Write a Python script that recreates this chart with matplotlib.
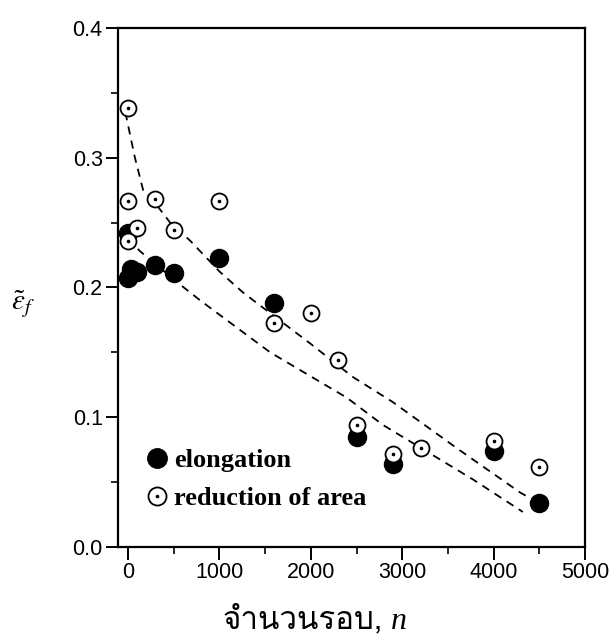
import matplotlib
matplotlib.use("Agg")
import matplotlib.pyplot as plt
from matplotlib import font_manager
from matplotlib.ft2font import FT2Font
from matplotlib.lines import Line2D
from matplotlib.legend_handler import HandlerTuple

# ---------------- data ----------------
ra_n = [0, 0, 300, 1000, 100, 0, 500, 1600, 2000, 2300, 2500, 2900, 3200, 4000, 4500]
ra_eps = [0.338, 0.267, 0.268, 0.267, 0.246, 0.236, 0.244, 0.173, 0.180, 0.144,
          0.094, 0.072, 0.076, 0.082, 0.062]

el_n = [0, 30, 100, 0, 300, 500, 1000, 1600, 2500, 2900, 4000, 4500]
el_eps = [0.207, 0.214, 0.212, 0.242, 0.217, 0.211, 0.223, 0.188, 0.085, 0.064, 0.074, 0.034]

upper_fit_n = [-30, 75, 165, 275, 460, 680, 1005, 1260, 1990, 2460, 2890, 3600, 4290, 4365]
upper_fit_eps = [0.335, 0.300, 0.275, 0.267, 0.250, 0.236, 0.212, 0.196, 0.157, 0.131,
                 0.112, 0.076, 0.042, 0.039]

lower_fit_n = [0, 130, 610, 790, 1555, 2395, 2790, 3775, 4320]
lower_fit_eps = [0.238, 0.228, 0.200, 0.190, 0.150, 0.115, 0.094, 0.052, 0.027]

x_ticks = [0, 1000, 2000, 3000, 4000, 5000]
y_ticks = [0.0, 0.1, 0.2, 0.3, 0.4]
y_tick_labels = ["0.0", "0.1", "0.2", "0.3", "0.4"]
legend_labels = ["elongation", "reduction of area"]
x_label = "จำนวนรอบ,"
x_label_var = "n"

# ---------------- fonts ----------------
def find_thai_font():
    seen = set()
    for f in font_manager.fontManager.ttflist:
        if f.fname in seen:
            continue
        seen.add(f.fname)
        try:
            cmap = FT2Font(f.fname).get_charmap()
        except Exception:
            continue
        if 0x0E08 in cmap and 0x0E33 in cmap:
            return f.name
    return None

thai = find_thai_font()
thai_family = [thai, "Liberation Serif", "DejaVu Sans"] if thai else ["Liberation Serif", "DejaVu Sans"]

plt.rcParams["font.family"] = ["Liberation Sans", "DejaVu Sans"]
plt.rcParams["mathtext.fontset"] = "stix"

# ---------------- figure ----------------
fig = plt.figure(figsize=(6.16, 6.39), dpi=100)
ax = fig.add_axes([0.1916, 0.1440, 0.7581, 0.8122])

dash = (0, (4.5, 3.5))
ax.plot(upper_fit_n, upper_fit_eps, color="black", lw=1.3, linestyle=dash, zorder=2)
ax.plot(lower_fit_n, lower_fit_eps, color="black", lw=1.3, linestyle=dash, zorder=2)

ax.plot(el_n, el_eps, linestyle="none", marker="o", ms=13, mfc="black", mec="black", zorder=3)
ax.plot(ra_n, ra_eps, linestyle="none", marker="o", ms=11.5, mfc="white", mec="black",
        mew=1.3, zorder=4)
ax.plot(ra_n, ra_eps, linestyle="none", marker="o", ms=1.6, mfc="black", mec="black", zorder=5)

ax.set_xlim(-110, 5000)
ax.set_ylim(0.0, 0.4)
ax.set_xticks(x_ticks)
ax.set_xticks([500, 1500, 2500, 3500, 4500], minor=True)
ax.set_yticks(y_ticks)
ax.set_yticklabels(y_tick_labels)
ax.set_yticks([0.05, 0.15, 0.25, 0.35], minor=True)
ax.tick_params(axis="both", which="major", direction="out", length=9, width=1.4,
               labelsize=15.5, pad=2)
ax.tick_params(axis="both", which="minor", direction="out", length=5, width=1.2)
for sp in ax.spines.values():
    sp.set_linewidth(1.6)

# legend
h_el = Line2D([], [], linestyle="none", marker="o", ms=14, mfc="black", mec="black")
h_ra = Line2D([], [], linestyle="none", marker="o", ms=13, mfc="white", mec="black", mew=1.3)
h_ra_dot = Line2D([], [], linestyle="none", marker="o", ms=1.6, mfc="black", mec="black")
leg = ax.legend([h_el, (h_ra, h_ra_dot)], legend_labels,
                handler_map={tuple: HandlerTuple(ndivide=1)},
                loc="upper left", bbox_to_anchor=(0.058, 0.19), frameon=False,
                prop={"family": "Liberation Serif", "size": 19, "weight": "bold"},
                handlelength=0.9, handletextpad=0.2, labelspacing=0.55,
                borderpad=0.0, borderaxespad=0.0)

# axis labels
fig.text(0.037, 0.523, r"$\tilde{\epsilon}_{f}$", fontsize=21, ha="center", va="center")
t = fig.text(0.362, 0.016, x_label, fontsize=22.5, family=thai_family, ha="left", va="baseline")
fig.canvas.draw()
bb = t.get_window_extent(renderer=fig.canvas.get_renderer())
fig.text((bb.x1 + 7) / fig.bbox.width, 0.016, x_label_var, fontsize=23,
         family="Liberation Serif", style="italic", ha="left", va="baseline")

fig.savefig("out.png", dpi=100)
